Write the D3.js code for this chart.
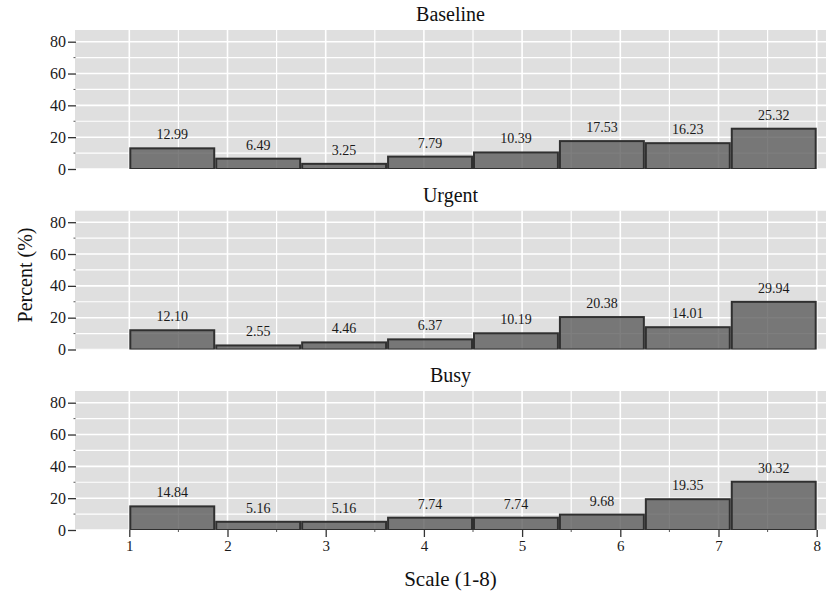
<!DOCTYPE html>
<html>
<head>
<meta charset="utf-8">
<script src="https://cdn.jsdelivr.net/npm/d3@7"></script>
<style>
  html, body { margin: 0; padding: 0; background: #fff; }
  svg { display: block; }
</style>
</head>
<body>
<svg id="chart" width="826" height="594"></svg>
<script>
// Histogram of responses on an 8-point scale, one panel per condition
const conditions = ["Baseline", "Urgent", "Busy"];
const baselineValues = [12.99, 6.49, 3.25, 7.79, 10.39, 17.53, 16.23, 25.32];
const urgentValues   = [12.10, 2.55, 4.46, 6.37, 10.19, 20.38, 14.01, 29.94];
const busyValues     = [14.84, 5.16, 5.16, 7.74, 7.74, 9.68, 19.35, 30.32];
const seriesValues = [baselineValues, urgentValues, busyValues];
const xTicks = [1, 2, 3, 4, 5, 6, 7, 8];
const yTicks = [0, 20, 40, 60, 80];
const scaleMin = 1, scaleMax = 8, binCount = 8;

const FONT = "Liberation Serif";
const svg = d3.select("#chart");

const panelLeft = 75, panelRight = 826;
const panelTop0 = 30, panelHeight = 139, panelStep = 180.5;

const x = d3.scaleLinear().domain([scaleMin, scaleMax]).range([129.3, 816.7]);
const binWidth = (scaleMax - scaleMin) / binCount;

const majorX = d3.range(scaleMin, scaleMax + 0.001, 1);
const minorX = d3.range(scaleMin + 0.5, scaleMax, 1);
const gridY = d3.range(0, 81, 10);
const minorY = [10, 30, 50, 70];

seriesValues.forEach((vals, i) => {
  const top = panelTop0 + i * panelStep;
  const bottom = top + panelHeight;
  const y = d3.scaleLinear().domain([0, 80]).range([bottom, bottom - 127.3]);
  const g = svg.append("g");

  const clipId = "clip" + i;
  g.append("clipPath").attr("id", clipId)
    .append("rect").attr("x", panelLeft).attr("y", top)
    .attr("width", panelRight - panelLeft).attr("height", panelHeight);

  const plot = g.append("g").attr("clip-path", `url(#${clipId})`);

  plot.append("rect")
    .attr("x", panelLeft).attr("y", top)
    .attr("width", panelRight - panelLeft).attr("height", panelHeight)
    .attr("fill", "#dfdfdf");

  // grid lines
  plot.selectAll(".gy").data(gridY).join("line")
    .attr("x1", panelLeft).attr("x2", panelRight)
    .attr("y1", d => y(d)).attr("y2", d => y(d))
    .attr("stroke", "#fff").attr("stroke-width", d => d % 20 === 0 ? 1.6 : 1.2);
  plot.selectAll(".gx").data(majorX.concat(minorX)).join("line")
    .attr("x1", d => x(d)).attr("x2", d => x(d))
    .attr("y1", top).attr("y2", bottom)
    .attr("stroke", "#fff").attr("stroke-width", d => Number.isInteger(d) ? 1.6 : 1.2);

  // bars
  const bins = vals.map((v, k) => ({ v, x0: scaleMin + k * binWidth, x1: scaleMin + (k + 1) * binWidth }));
  plot.selectAll(".bar").data(bins).join("rect")
    .attr("x", d => x(d.x0) + 1)
    .attr("width", d => x(d.x1) - x(d.x0) - 2)
    .attr("y", d => y(d.v))
    .attr("height", d => y(0) - y(d.v))
    .attr("fill", "#555").attr("fill-opacity", 0.76)
    .attr("stroke", "#303030").attr("stroke-width", 2);

  g.selectAll(".lbl").data(bins).join("text")
    .attr("x", d => x((d.x0 + d.x1) / 2))
    .attr("y", d => y(d.v) - 9)
    .attr("text-anchor", "middle")
    .style("font-family", FONT).style("font-size", "14px").attr("fill", "#1a1a1a")
    .text(d => d.v.toFixed(2));

  // y axis
  const yAxis = d3.axisLeft(y).tickValues(yTicks).tickSize(8).tickPadding(2);
  const ya = g.append("g").attr("transform", `translate(${panelLeft + 1},0)`).call(yAxis);
  ya.select(".domain").remove();
  ya.selectAll("text").style("font-family", FONT).style("font-size", "16px").attr("fill", "#1a1a1a");
  ya.selectAll("line").attr("stroke", "#333").attr("stroke-width", 1.3);
  g.selectAll(".ymin").data(minorY).join("line")
    .attr("x1", panelLeft - 1.5).attr("x2", panelLeft + 0.5)
    .attr("y1", d => y(d)).attr("y2", d => y(d))
    .attr("stroke", "#555").attr("stroke-width", 1);

  // panel title
  g.append("text")
    .attr("x", (panelLeft + panelRight) / 2)
    .attr("y", top - 8.7)
    .attr("text-anchor", "middle")
    .style("font-family", FONT).style("font-size", "20px").attr("fill", "#111")
    .text(conditions[i]);

  if (i === seriesValues.length - 1) {
    const xAxis = d3.axisBottom(x).tickValues(xTicks).tickSize(7).tickPadding(3).tickFormat(d3.format("d"));
    const xa = g.append("g").attr("transform", `translate(0,${bottom})`).call(xAxis);
    xa.select(".domain").remove();
    xa.selectAll("text").style("font-family", FONT).style("font-size", "15px").attr("fill", "#1a1a1a");
    xa.selectAll("line").attr("stroke", "#333").attr("stroke-width", 1.3);
    g.selectAll(".xmin").data(minorX).join("line")
      .attr("x1", d => x(d)).attr("x2", d => x(d))
      .attr("y1", bottom).attr("y2", bottom + 2)
      .attr("stroke", "#555").attr("stroke-width", 1);
  }
});

// axis titles
svg.append("text")
  .attr("x", (panelLeft + panelRight) / 2).attr("y", 586)
  .attr("text-anchor", "middle")
  .style("font-family", FONT).style("font-size", "21px").attr("fill", "#111")
  .text("Scale (1-8)");

svg.append("text")
  .attr("transform", "translate(32,275) rotate(-90)")
  .attr("text-anchor", "middle")
  .style("font-family", FONT).style("font-size", "20px").attr("fill", "#111")
  .text("Percent (%)");
</script>
</body>
</html>
